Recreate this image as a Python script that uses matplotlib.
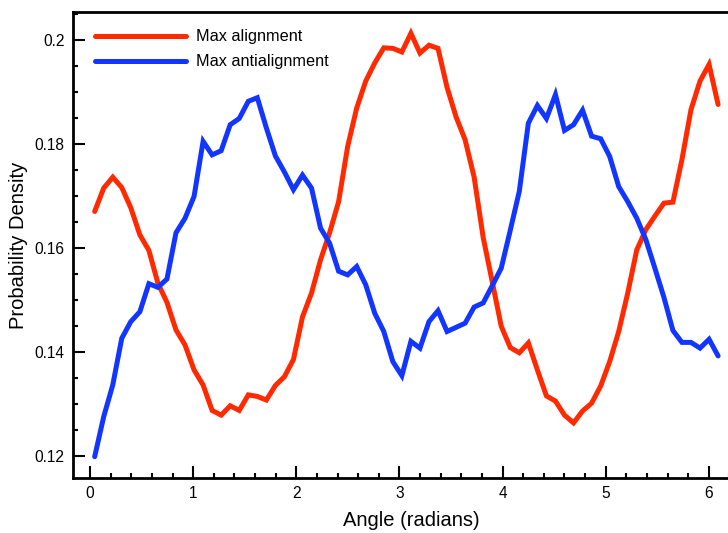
import numpy as np
import matplotlib
matplotlib.use("Agg")
import matplotlib.pyplot as plt
from matplotlib.ticker import MultipleLocator, FuncFormatter

plt.rcParams['font.family'] = ['Liberation Sans', 'DejaVu Sans']

# angle bins (radians)
angle = np.linspace(0.045, 6.09, 70)

max_alignment = [
    0.1670, 0.1715, 0.1736, 0.1716, 0.1677, 0.1625, 0.1595, 0.1532, 0.1495, 0.1442,
    0.1413, 0.1365, 0.1336, 0.1287, 0.1278, 0.1296, 0.1287, 0.1317, 0.1314, 0.1307,
    0.1335, 0.1352, 0.1385, 0.1467, 0.1513, 0.1577, 0.1629, 0.1689, 0.1795, 0.1869,
    0.1921, 0.1956, 0.1985, 0.1984, 0.1977, 0.2013, 0.1975, 0.1990, 0.1984, 0.1909,
    0.1852, 0.1808, 0.1736, 0.1620, 0.1535, 0.1449, 0.1408, 0.1398, 0.1417, 0.1365,
    0.1315, 0.1305, 0.1278, 0.1263, 0.1286, 0.1301, 0.1334, 0.1381, 0.1439, 0.1513,
    0.1596, 0.1635, 0.1661, 0.1686, 0.1688, 0.1770, 0.1866, 0.1921, 0.1953, 0.1876,
]

max_antialignment = [
    0.1198, 0.1275, 0.1336, 0.1426, 0.1458, 0.1477, 0.1531, 0.1524, 0.1540, 0.1629,
    0.1657, 0.1699, 0.1805, 0.1779, 0.1787, 0.1837, 0.1849, 0.1882, 0.1889, 0.1831,
    0.1777, 0.1746, 0.1712, 0.1740, 0.1715, 0.1638, 0.1609, 0.1555, 0.1548, 0.1564,
    0.1529, 0.1474, 0.1439, 0.1381, 0.1354, 0.1420, 0.1407, 0.1458, 0.1479, 0.1439,
    0.1447, 0.1455, 0.1486, 0.1494, 0.1527, 0.1561, 0.1634, 0.1709, 0.1840, 0.1874,
    0.1849, 0.1895, 0.1826, 0.1837, 0.1865, 0.1815, 0.1810, 0.1776, 0.1718, 0.1689,
    0.1657, 0.1616, 0.1561, 0.1505, 0.1441, 0.1418, 0.1418, 0.1407, 0.1424, 0.1392,
]

fig = plt.figure(figsize=(7.28, 5.33), dpi=100)
# axes runs past the right edge of the canvas
ax = fig.add_axes([0.1003, 0.1032, 0.93, 0.8743])

ax.plot(angle, max_alignment, color='#ff2a00', lw=3.6, label='Max alignment',
        solid_joinstyle='miter', solid_capstyle='round')
ax.plot(angle, max_antialignment, color='#1236ff', lw=3.6, label='Max antialignment',
        solid_joinstyle='miter', solid_capstyle='round')

ax.set_xlim(-0.165, 6.4)
ax.set_ylim(0.1157, 0.2054)

ax.xaxis.set_major_locator(MultipleLocator(1))
ax.xaxis.set_minor_locator(MultipleLocator(0.2))
ax.yaxis.set_major_locator(MultipleLocator(0.02))
ax.yaxis.set_minor_locator(MultipleLocator(0.005))
ax.yaxis.set_major_formatter(FuncFormatter(lambda v, p: '%g' % round(v, 4)))

ax.tick_params(which='both', direction='in', top=False, right=False, width=1.5)
ax.tick_params(which='major', length=8.4, labelsize=11.2, pad=6)
ax.tick_params(which='minor', length=3.8)

for side in ['left', 'bottom', 'top']:
    ax.spines[side].set_linewidth(2)
ax.spines['right'].set_visible(False)

ax.set_xlabel('Angle (radians)', fontsize=14.5, labelpad=7)
ax.set_ylabel('Probability Density', fontsize=14.5, labelpad=5)

ax.legend(loc='upper left', bbox_to_anchor=(0.0325, 0.963), frameon=False,
          fontsize=11.7, handlelength=5.6, handletextpad=0.6, labelspacing=0.62,
          borderpad=0, borderaxespad=0)

fig.savefig('out.png', dpi=100)
